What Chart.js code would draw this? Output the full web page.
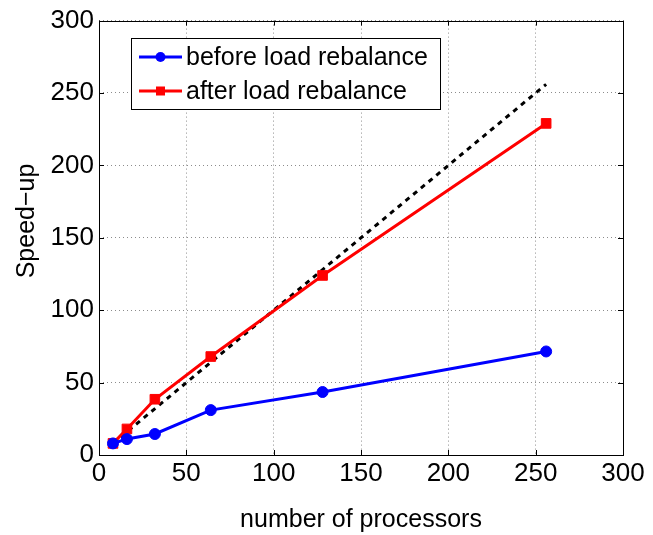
<!DOCTYPE html>
<html>
<head>
<meta charset="utf-8">
<style>
  html, body { margin: 0; padding: 0; background: #fff; }
  #wrap { width: 653px; height: 535px; }
</style>
<script src="https://cdnjs.cloudflare.com/ajax/libs/Chart.js/4.4.1/chart.umd.js"></script>
</head>
<body>
<div id="wrap"><canvas id="speedup" width="653" height="535"></canvas></div>
<script>
const processors = [8, 16, 32, 64, 128, 256];
const beforeRebalance = [8, 11, 14.5, 31, 43.5, 71.5];
const afterRebalance = [8, 18, 38.5, 68, 124, 229];
const idealSpeedup = [8, 256];
const ticksX = [0, 50, 100, 150, 200, 250, 300];
const ticksY = [0, 50, 100, 150, 200, 250, 300];

const FONT = 'Liberation Sans, Arial, Helvetica, sans-serif';
const FONT_SIZE = 25;
const TICK_SIZE = 26;

// box with inward tick marks on all four sides, like matlab
const boxPlugin = {
  id: 'box',
  afterDatasetsDraw(chart) {
    const { ctx, chartArea: a, scales } = chart;
    ctx.save();
    ctx.strokeStyle = '#000';
    ctx.lineWidth = 1;
    ctx.beginPath();
    ticksX.forEach(v => {
      const x = Math.round(scales.x.getPixelForValue(v)) + 0.5;
      ctx.moveTo(x, a.bottom); ctx.lineTo(x, a.bottom - 5);
      ctx.moveTo(x, a.top); ctx.lineTo(x, a.top + 5);
    });
    ticksY.forEach(v => {
      const y = Math.round(scales.y.getPixelForValue(v)) + 0.5;
      ctx.moveTo(a.left, y); ctx.lineTo(a.left + 5, y);
      ctx.moveTo(a.right, y); ctx.lineTo(a.right - 5, y);
    });
    ctx.stroke();
    ctx.strokeRect(Math.round(a.left) + 0.5, Math.round(a.top) + 0.5,
      Math.round(a.right - a.left), Math.round(a.bottom - a.top));

    // y axis title, sits a bit above the middle in the original
    ctx.translate(27, 221);
    ctx.rotate(-Math.PI / 2);
    ctx.fillStyle = '#000';
    ctx.font = FONT_SIZE + 'px ' + FONT;
    ctx.textAlign = 'center';
    ctx.textBaseline = 'middle';
    ctx.fillText('Speed\u2212up', 0, 0);
    ctx.restore();
  },
};

// legend drawn inside the plot area
const innerLegend = {
  id: 'innerLegend',
  afterDraw(chart) {
    const { ctx } = chart;
    const items = chart.data.datasets.filter(d => d.label);
    const x0 = 131, y0 = 38, w = 309, h = 71;
    ctx.save();
    ctx.fillStyle = '#fff';
    ctx.fillRect(x0, y0, w, h);
    ctx.strokeStyle = '#000';
    ctx.lineWidth = 1;
    ctx.strokeRect(x0 + 0.5, y0 + 0.5, w, h);
    ctx.font = FONT_SIZE + 'px ' + FONT;
    ctx.textBaseline = 'middle';
    items.forEach((d, i) => {
      const y = 57 + i * 34;
      ctx.strokeStyle = d.borderColor;
      ctx.lineWidth = 3;
      ctx.beginPath();
      ctx.moveTo(139, y); ctx.lineTo(182, y);
      ctx.stroke();
      ctx.fillStyle = d.borderColor;
      if (d.pointStyle === 'rect') {
        ctx.fillRect(156, y - 4.5, 9, 9);
      } else {
        ctx.beginPath();
        ctx.arc(160.5, y, 5, 0, Math.PI * 2);
        ctx.fill();
      }
      ctx.fillStyle = '#000';
      ctx.fillText(d.label, 186, y + 1);
    });
    ctx.restore();
  },
};

new Chart(document.getElementById('speedup'), {
  type: 'scatter',
  data: {
    datasets: [
      {
        label: 'before load rebalance',
        data: processors.map((p, i) => ({ x: p, y: beforeRebalance[i] })),
        showLine: true,
        borderColor: '#0000ff',
        backgroundColor: '#0000ff',
        borderWidth: 3,
        pointStyle: 'circle',
        pointRadius: 5.5,
        pointBorderWidth: 1,
      },
      {
        label: 'after load rebalance',
        data: processors.map((p, i) => ({ x: p, y: afterRebalance[i] })),
        showLine: true,
        borderColor: '#ff0000',
        backgroundColor: '#ff0000',
        borderWidth: 3,
        pointStyle: 'rect',
        pointRadius: 6.8,
        pointBorderWidth: 1,
      },
      {
        label: '',
        data: idealSpeedup.map(v => ({ x: v, y: v })),
        showLine: true,
        borderColor: '#000',
        borderWidth: 3,
        borderDash: [5, 5],
        pointRadius: 0,
      },
    ],
  },
  options: {
    responsive: false,
    animation: false,
    layout: { padding: { top: 19, right: 30, left: 0, bottom: 0 } },
    plugins: {
      legend: { display: false },
      tooltip: { enabled: false },
    },
    scales: {
      x: {
        type: 'linear',
        min: 0,
        max: 300,
        afterBuildTicks(scale) { scale.ticks = ticksX.map(v => ({ value: v })); },
        afterFit(scale) { scale.height = 80; },
        grid: { color: 'rgba(0,0,0,0.45)', drawTicks: false },
        border: { display: false, dash: [1, 3] },
        ticks: { color: '#000', padding: 3, font: { family: FONT, size: TICK_SIZE }, maxRotation: 0 },
        title: {
          display: true,
          text: 'number of processors',
          color: '#000',
          font: { family: FONT, size: FONT_SIZE },
          padding: { top: 0, bottom: 0 },
        },
      },
      y: {
        type: 'linear',
        min: 0,
        max: 300,
        afterBuildTicks(scale) { scale.ticks = ticksY.map(v => ({ value: v })); },
        afterFit(scale) { scale.width = 99; },
        grid: { color: 'rgba(0,0,0,0.45)', drawTicks: false },
        border: { display: false, dash: [1, 3] },
        ticks: { color: '#000', padding: 5, font: { family: FONT, size: TICK_SIZE } },
      },
    },
  },
  plugins: [boxPlugin, innerLegend],
});
</script>
</body>
</html>
